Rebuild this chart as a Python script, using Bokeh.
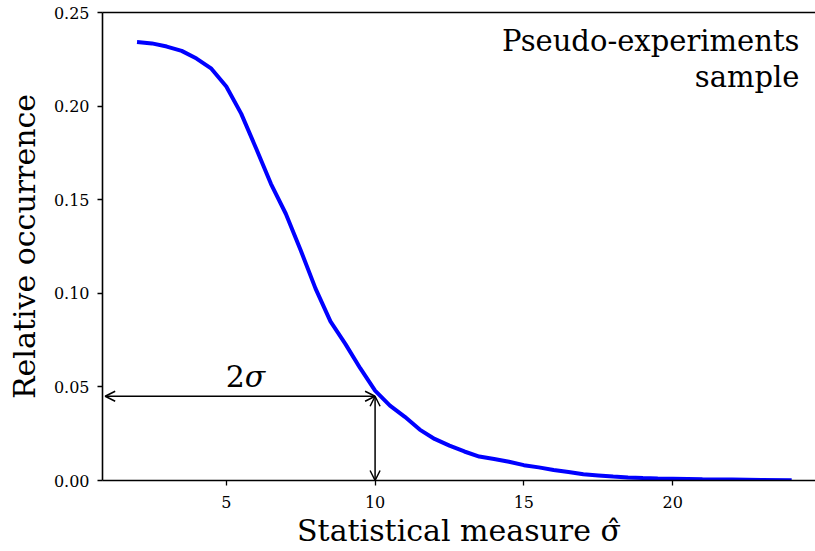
from bokeh.plotting import figure
from bokeh.models import (Range1d, LinearAxis, FixedTicker, Arrow, OpenHead,
                          ColumnDataSource, Label)
from bokeh.core.properties import value
from bokeh.embed import file_html
from bokeh.resources import INLINE

# ---- data ----
sigma_hat = [2.0, 2.5, 3.0, 3.5, 4.0, 4.5, 5.0, 5.5, 6.0, 6.5, 7.0, 7.5, 8.0,
             8.5, 9.0, 9.5, 10.0, 10.5, 11.0, 11.5, 12.0, 12.5, 13.0, 13.5,
             14.0, 14.5, 15.0, 15.5, 16.0, 16.5, 17.0, 17.5, 18.0, 18.5,
             19.0, 19.5, 20.0, 21.0, 22.0, 23.0, 24.0]
occurrence = [0.2342, 0.2335, 0.2318, 0.2295, 0.2254, 0.2200, 0.2105, 0.1960,
              0.1775, 0.1585, 0.1425, 0.1230, 0.1025, 0.0850, 0.0730, 0.0600,
              0.0480, 0.0400, 0.0340, 0.0272, 0.0222, 0.0186, 0.0155, 0.0128,
              0.0115, 0.0100, 0.0082, 0.0070, 0.0056, 0.0045, 0.0033, 0.0027,
              0.0021, 0.0016, 0.0013, 0.0011, 0.0010, 0.0007, 0.0005, 0.0003,
              0.0002]
x_ticks = [5, 10, 15, 20]
y_ticks = [0.00, 0.05, 0.10, 0.15, 0.20, 0.25]
y_tick_labels = ["0.00", "0.05", "0.10", "0.15", "0.20", "0.25"]

# annotation values
two_sigma_x = 10.0
two_sigma_y = 0.045
arrow_left_x = 0.93
two_sigma_label_x = 5.62
two_sigma_label_y = 0.0556
sample_label_x = 24.26
sample_label_y = [0.2349, 0.2156]
sample_label_text = ["Pseudo-experiments", "sample"]

FONT = "DejaVu Serif"

p = figure(width=815, height=551, output_backend="svg", toolbar_location=None,
           x_range=Range1d(0.84, 24.8), y_range=Range1d(0.0, 0.25),
           min_border_left=102, min_border_right=0, min_border_top=12,
           min_border_bottom=71, background_fill_color="white",
           border_fill_color="white")
p.outline_line_color = None
p.grid.visible = False

p.line(sigma_hat, occurrence, line_color="#0000ff", line_width=4)

for ax in (p.xaxis[0], p.yaxis[0]):
    ax.axis_line_color = "black"
    ax.axis_line_width = 1.6
    ax.major_tick_in = 0
    ax.major_tick_out = 5
    ax.major_tick_line_width = 1.3
    ax.minor_tick_line_color = None
    ax.major_label_text_font = FONT
    ax.major_label_text_font_size = "16px"
    ax.major_label_text_color = "black"
    ax.axis_label_text_font = FONT
    ax.axis_label_text_font_style = "normal"
    ax.axis_label_text_font_size = "30px"
    ax.axis_label_text_color = "black"

p.xaxis[0].ticker = FixedTicker(ticks=x_ticks)
p.xaxis[0].major_label_standoff = 10
p.xaxis[0].axis_label = "Statistical measure σ\u0302"
p.xaxis[0].axis_label_standoff = 2

p.yaxis[0].ticker = FixedTicker(ticks=y_ticks)
p.yaxis[0].major_label_overrides = {t: l for t, l in zip(y_ticks, y_tick_labels)}
p.yaxis[0].major_label_standoff = 8
p.yaxis[0].axis_label = "Relative occurrence"
p.yaxis[0].axis_label_standoff = 9

top = LinearAxis(ticker=FixedTicker(ticks=[]), major_tick_in=0, major_tick_out=0,
                 minor_tick_line_color=None, axis_line_width=1.6,
                 axis_line_color="black", major_label_standoff=0)
p.add_layout(top, "above")

# 2 sigma arrows
p.add_layout(Arrow(start=OpenHead(size=10, line_width=1.5),
                   end=OpenHead(size=10, line_width=1.5),
                   x_start=arrow_left_x, y_start=two_sigma_y,
                   x_end=two_sigma_x, y_end=two_sigma_y,
                   line_width=1.5, line_color="black"))
p.add_layout(Arrow(start=OpenHead(size=10, line_width=1.5),
                   end=OpenHead(size=10, line_width=1.5),
                   x_start=two_sigma_x, y_start=0.0,
                   x_end=two_sigma_x, y_end=two_sigma_y,
                   line_width=1.5, line_color="black"))

p.add_layout(Label(x=two_sigma_label_x, y=two_sigma_label_y, text="2",
                   text_font=FONT, text_font_size="30px", text_align="right",
                   text_baseline="alphabetic", text_color="black"))
p.add_layout(Label(x=two_sigma_label_x, y=two_sigma_label_y, text="σ",
                   text_font=FONT, text_font_size="30px", text_align="left",
                   text_font_style="italic",
                   text_baseline="alphabetic", text_color="black"))

src = ColumnDataSource(dict(x=[sample_label_x] * 2, y=sample_label_y,
                            t=sample_label_text))
p.text(x="x", y="y", text="t", source=src, text_align="right",
       text_baseline="alphabetic", text_font_size="29px", text_color="black",
       text_font=value(FONT))

open("out.html", "w").write(file_html(p, INLINE))
